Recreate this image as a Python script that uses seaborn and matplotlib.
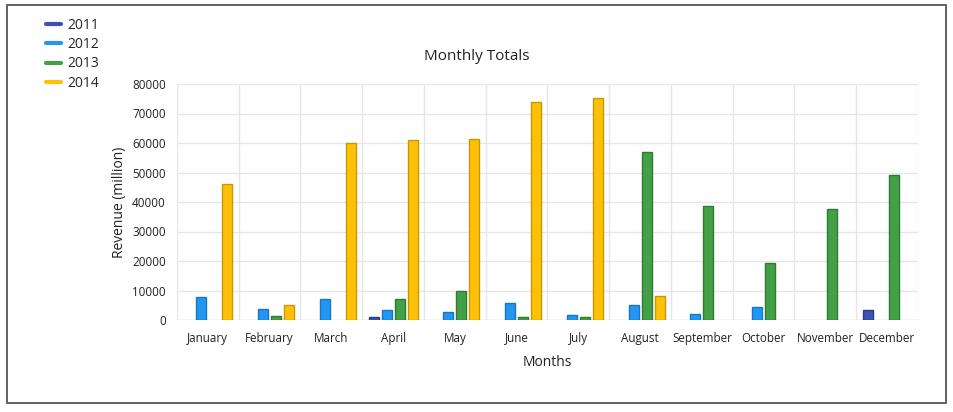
import matplotlib
matplotlib.use("Agg")
import matplotlib.pyplot as plt
import matplotlib.patches as mpatches
from matplotlib.lines import Line2D
import seaborn as sns
import pandas as pd
import numpy as np

months = ["January", "February", "March", "April", "May", "June", "July",
          "August", "September", "October", "November", "December"]
years = ["2011", "2012", "2013", "2014"]
rev_2011 = [0, 0, 0, 1000, 0, 0, 0, 0, 0, 0, 0, 3400]
rev_2012 = [7800, 3700, 7000, 3300, 2700, 5700, 1600, 5000, 2000, 4300, 0, 0]
rev_2013 = [0, 1300, 0, 7000, 10000, 1000, 900, 57000, 38600, 19300, 37600, 49000]
rev_2014 = [46000, 5000, 60000, 61000, 61300, 74000, 75300, 8100, 0, 0, 0, 0]

colors = ["#3F51B5", "#2196F3", "#43A047", "#FFC107"]
edges = ["#2c3a84", "#1a75bf", "#2f7a32", "#c99700"]

rows = []
for y, vals in zip(years, [rev_2011, rev_2012, rev_2013, rev_2014]):
    for m, v in zip(months, vals):
        rows.append({"Month": m, "Year": y, "Revenue": v})
df = pd.DataFrame(rows)

sns.set_theme(style="white")
plt.rcParams['font.family'] = ['Open Sans', 'DejaVu Sans']

fig = plt.figure(figsize=(9.54, 4.12), dpi=100)
ax = fig.add_axes([177/954, 1-320/412, (918-177)/954, (320-84)/412])

sns.barplot(data=df, x="Month", y="Revenue", hue="Year", order=months,
            hue_order=years, palette=colors, saturation=1, width=0.84, gap=0.22,
            ax=ax, legend=False, linewidth=1, edgecolor="none")

for cont, ec in zip(ax.containers, edges):
    for bar in cont:
        bar.set_edgecolor(ec)
        if bar.get_height() == 0:
            bar.set_visible(False)

ax.set_xlim(-0.5, 11.5)
ax.set_ylim(0, 80000)
ax.set_yticks(np.arange(0, 80001, 10000))
ax.set_yticklabels([str(v) for v in range(0, 80001, 10000)], fontsize=8.4)
ax.set_xticks(np.arange(12))
ax.set_xticklabels(months, fontsize=8.4)
for lab in ax.get_xticklabels():
    lab.set_va("baseline")
ax.set_xticks(np.arange(-0.5, 12, 1), minor=True)
ax.tick_params(axis="x", which="major", length=0, pad=15.5, colors="#222222")
ax.tick_params(axis="x", which="minor", length=5, color="#dddddd", width=1)
ax.tick_params(axis="y", length=0, pad=8, colors="#222222")
ax.grid(True, axis="y", which="major", color="#e6e6e6", linewidth=1)
ax.grid(True, axis="x", which="minor", color="#e6e6e6", linewidth=1)
ax.set_axisbelow(True)
for s in ax.spines.values():
    s.set_visible(False)
ax.axhline(0, color="#dddddd", linewidth=1, zorder=0.5)

ax.set_xlabel("Months", fontsize=10, color="#222222", labelpad=7.5)
ax.set_ylabel("Revenue (million)", fontsize=10, color="#222222", labelpad=4)
fig.text(477/954, 1-56/412, "Monthly Totals", ha="center", va="center",
         fontsize=11, color="#222222")

handles = [Line2D([0], [0], color=c, lw=3) for c in colors]
fig.legend(handles, years, loc="upper left", bbox_to_anchor=(40/954, 1-12/412),
           frameon=False, fontsize=10, handlelength=1.1, handletextpad=0.5,
           labelspacing=0.32, borderaxespad=0)

fig.patches.append(mpatches.Rectangle((7/954, 1-403/412), 939/954, 398/412,
                                      transform=fig.transFigure, fill=False,
                                      edgecolor="#555555", linewidth=1.3))

fig.savefig("out.png", dpi=100)
